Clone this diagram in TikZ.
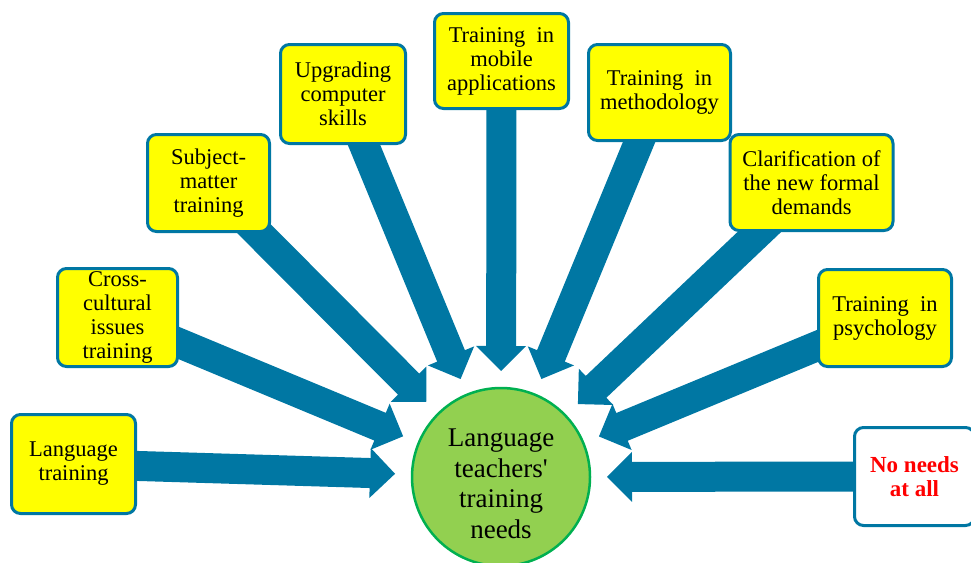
\documentclass[tikz,border=0pt]{standalone}
\usepackage{fontspec}
\setmainfont{Liberation Serif}
\usetikzlibrary{calc,backgrounds}

\definecolor{arrowblue}{RGB}{0,119,163}
\definecolor{boxyellow}{RGB}{255,255,0}
\definecolor{hubgreen}{RGB}{146,208,80}
\definecolor{hubedge}{RGB}{0,176,80}
\definecolor{alertred}{RGB}{255,0,0}

\tikzset{
  need/.style={draw=arrowblue, line width=3pt, fill=boxyellow, rounded corners=9pt,
    align=center, inner sep=0pt, font=\fontsize{22.5}{24}\selectfont},
  noneed/.style={need, fill=white, text=alertred, font=\fontsize{23}{24}\selectfont\bfseries},
  hub/.style={circle, draw=hubedge, line width=2.5pt, fill=hubgreen,
    minimum size=178pt, inner sep=0pt},
  hubtext/.style={align=center, inner sep=0pt, font=\fontsize{27}{30.5}\selectfont},
  blockarrow/.style={fill=arrowblue},
}

% Broad block arrow from the centre of a box towards the hub,
% stopping a fixed distance from the hub's centre.
\newcommand\fatarrow[1]{%
  \coordinate (#1-tip) at ($(hub.center)!106pt!(#1.center)$);
  \coordinate (#1-base) at ($(#1-tip)!25pt!(#1.center)$);
  \fill[blockarrow]
    ($(#1.center)!15pt!90:(#1-tip)$) --
    ($(#1-base)!15pt!-90:(#1.center)$) --
    ($(#1-base)!25pt!-90:(#1.center)$) --
    (#1-tip) --
    ($(#1-base)!25pt!90:(#1.center)$) --
    ($(#1-base)!15pt!90:(#1.center)$) --
    ($(#1.center)!15pt!-90:(#1-tip)$) -- cycle;
}

\begin{document}
\begin{tikzpicture}[x=1pt, y=-1pt]
  \useasboundingbox (0,0) rectangle (971,562);

  % the hub
  \node[hub] (hub) at (501,477) {};
  \node[hubtext] (hubtxt) at (501,484) {Language\\teachers\textquotesingle\\training\\needs};

  % the needs around it
  \node[need, minimum width=124pt, minimum height=99pt] (lang)  at (73.5,464)   {Language\\training};
  \node[need, minimum width=120pt, minimum height=98pt] (cross) at (117.5,317.5) {Cross-\\cultural\\issues\\training};
  \node[need, minimum width=122pt, minimum height=97pt] (subj)  at (208.5,183)   {Subject-\\matter\\training};
  \node[need, minimum width=125pt, minimum height=99pt] (upg)   at (343,94)      {Upgrading\\computer\\skills};
  \node[need, minimum width=134pt, minimum height=95pt] (mob)   at (501.5,61)    {Training\ \ in\\mobile\\applications};
  \node[need, minimum width=142pt, minimum height=96pt] (meth)  at (659.5,92.5)  {Training\ \ in\\methodology};
  \node[need, minimum width=163pt, minimum height=96pt] (clar)  at (811.5,182.5) {Clarification of\\the new formal\\demands};
  \node[need, minimum width=133pt, minimum height=97pt] (psy)   at (885,318)     {Training\ \ in\\psychology};
  \node[noneed, minimum width=120pt, minimum height=98pt] (none) at (914.5,476.5) {No needs\\at all};

  % arrows run underneath the boxes
  \begin{scope}[on background layer]
    \foreach \b in {lang,cross,subj,upg,mob,meth,clar,psy,none} {
      \fatarrow{\b}
    }
  \end{scope}
\end{tikzpicture}
\end{document}
